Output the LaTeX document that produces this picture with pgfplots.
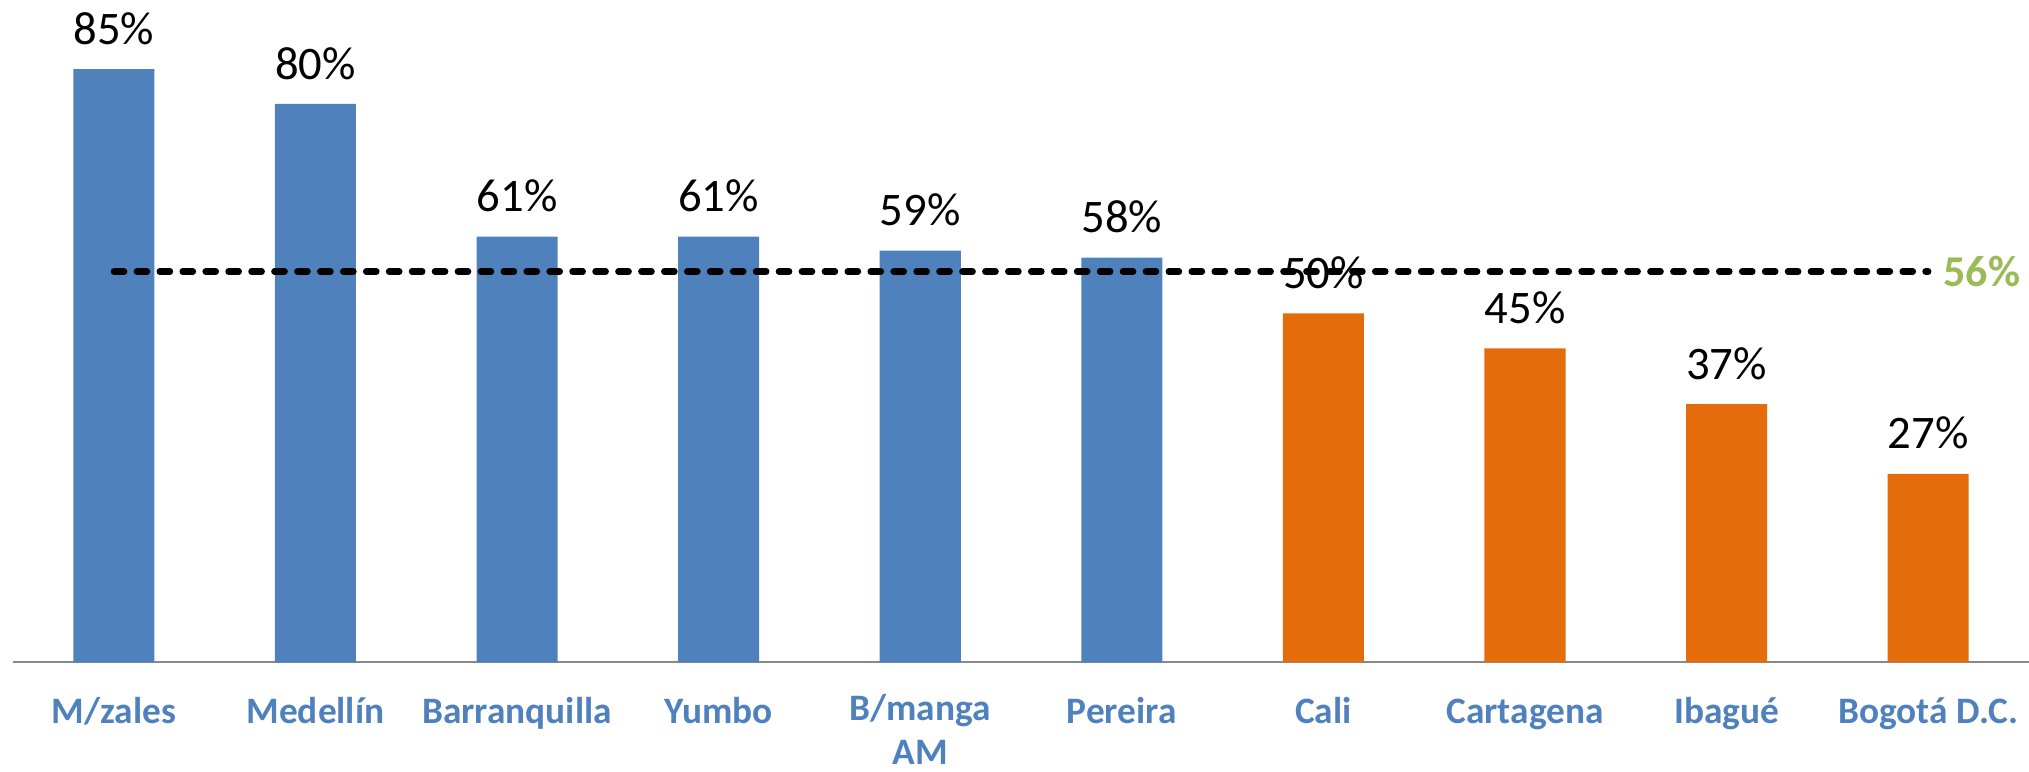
\documentclass[border=0pt]{standalone}
\usepackage{fontspec}
\setmainfont{Carlito}
\usepackage{pgfplots}
\pgfplotsset{compat=1.18}
\definecolor{cblue}{HTML}{4F81BD}
\definecolor{corange}{HTML}{E46C0A}
\definecolor{cgreen}{HTML}{9BBB59}
\definecolor{cgray}{HTML}{898989}
\begin{document}
\begin{tikzpicture}
\path[use as bounding box] (-4.9pt,-41.1pt) rectangle (756pt,248.4pt);
\begin{axis}[
  scale only axis, width=756pt, height=235.6pt,
  xmin=-0.5, xmax=9.5, ymin=0, ymax=90,
  axis x line*=bottom, axis y line=none,
  x axis line style={cgray, line width=0.8pt},
  xtick={0,...,9},
  xticklabels={M/zales, Medellín, Barranquilla, Yumbo, {B/manga\\AM}, Pereira, Cali, Cartagena, Ibagué, Bogotá D.C.},
  major tick length=0pt,
  xticklabel style={font=\fontsize{14}{16.5}\selectfont\bfseries, text=cblue, align=center, anchor=north, inner sep=0pt, execute at begin node={\rule{0pt}{11pt}}, yshift=-11.7pt},
  /pgf/number format/assume math mode=true,
  clip=false,
  every node near coord/.style={font=\fontsize{17.5}{20}\selectfont, text=black, anchor=south, inner sep=0pt, yshift=9pt},
]
\addplot[ybar, bar width=30.4pt, bar shift=0pt, fill=cblue, draw=none,
  nodes near coords={\pgfmathprintnumber[fixed,precision=0]{\pgfplotspointmeta}\%}]
  coordinates {(0,85) (1,80) (2,61) (3,61) (4,59) (5,58)};
\addplot[ybar, bar width=30.4pt, bar shift=0pt, fill=corange, draw=none,
  nodes near coords={\pgfmathprintnumber[fixed,precision=0]{\pgfplotspointmeta}\%}]
  coordinates {(6,50) (7,45) (8,37) (9,27)};
\addplot[black, line width=2.4pt, line cap=round, dash pattern=on 3.85pt off 4.75pt, mark=none]
  coordinates {(0,56) (9,56)};
\node[anchor=west, inner sep=0pt, xshift=5.6pt, text=cgreen, font=\fontsize{16.5}{19}\selectfont\bfseries] at (axis cs:9,56) {56\%};
\end{axis}
\end{tikzpicture}
\end{document}
